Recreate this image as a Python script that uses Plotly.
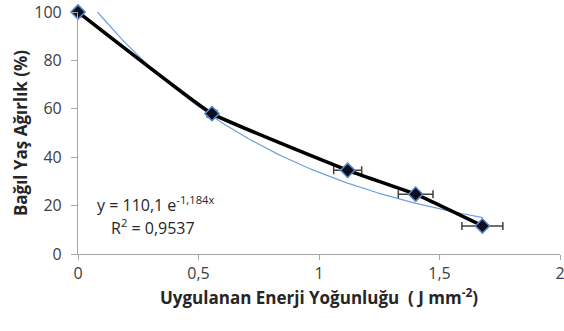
import numpy as np
import plotly.graph_objects as go

energy = [0.0, 0.556, 1.119, 1.401, 1.678]
weight = [100.0, 58.0, 34.6, 24.7, 11.6]
x_err = [0.0, 0.02, 0.058, 0.072, 0.085]
y_err = [2.0, 1.5, 0.8, 0.8, 0.8]

fit_a = 110.1
fit_b = -1.184
fit_x = np.linspace(0.0, 1.68, 120)
fit_y = fit_a * np.exp(fit_b * fit_x)

FONT = "Open Sans"
fig = go.Figure()
fig.add_trace(go.Scatter(x=fit_x, y=fit_y, mode="lines",
                         line=dict(color="#6fa0dc", width=1.2), hoverinfo="skip"))
fig.add_trace(go.Scatter(
    x=energy, y=weight, mode="lines+markers",
    line=dict(color="black", width=3.5, shape="spline", smoothing=0.3),
    marker=dict(symbol="diamond", size=11, color="#0a0f1e",
                line=dict(color="#5a88c8", width=1.5)),
    error_x=dict(type="data", array=x_err, color="#404040", thickness=1.5, width=4),
    error_y=dict(type="data", array=y_err, color="#404040", thickness=1.5, width=4),
    cliponaxis=False))

fig.add_annotation(xref="paper", yref="paper", x=0.035, y=0.205, xanchor="left", yanchor="middle",
                   text="y = 110,1 e<sup>-1,184x</sup>", showarrow=False,
                   font=dict(family=FONT, size=16, color="#262626"))
fig.add_annotation(xref="paper", yref="paper", x=0.065, y=0.11, xanchor="left", yanchor="middle",
                   text="R<sup>2</sup> = 0,9537", showarrow=False,
                   font=dict(family=FONT, size=16, color="#262626"))

fig.update_layout(
    width=564, height=331, margin=dict(l=78, r=4, t=12, b=77, autoexpand=False),
    paper_bgcolor="white", plot_bgcolor="white", showlegend=False,
    font=dict(family=FONT, size=16, color="#404040"),
)
fig.update_xaxes(range=[0, 2], tickvals=[0, 0.5, 1, 1.5, 2], ticktext=["0", "0,5", "1", "1,5", "2"],
                 showgrid=False, zeroline=False, showline=True, linecolor="#a6a6a6", linewidth=1.2,
                 ticks="outside", ticklen=5, tickcolor="#a6a6a6", tickfont=dict(size=16),
                 ticklabeloverflow="allow", automargin=False,
                 title=dict(text="<b>Uygulanan Enerji Yoğunluğu  ( J mm<sup>-2</sup>)</b>",
                            font=dict(family=FONT, size=17, color="#262626"), standoff=8))
fig.update_yaxes(range=[0, 100], tickvals=[0, 20, 40, 60, 80, 100],
                 showgrid=False, zeroline=False, showline=True, linecolor="#a6a6a6", linewidth=1.2,
                 ticks="outside", ticklen=6, tickcolor="#a6a6a6", ticklabelstandoff=6,
                 tickfont=dict(size=16), ticklabeloverflow="allow", automargin=False,
                 title=dict(text="<b>Bağıl Yaş Ağırlık (%)</b>",
                            font=dict(family=FONT, size=17, color="#262626"), standoff=2))
fig.write_html("out.html")
